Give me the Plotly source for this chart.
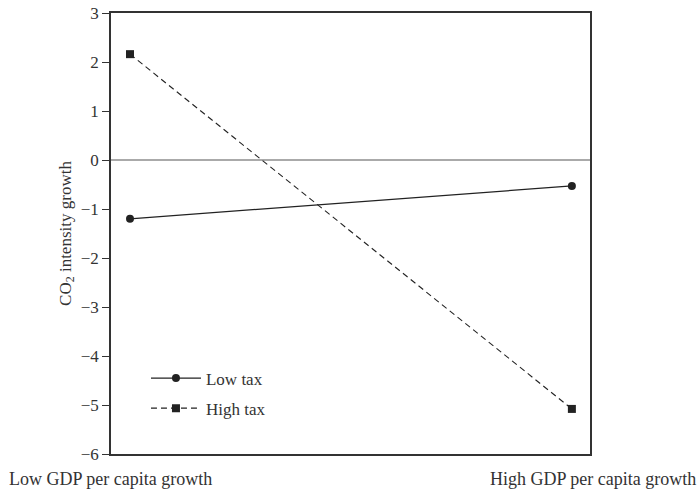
import plotly.graph_objects as go

categories = ["Low GDP per capita growth", "High GDP per capita growth"]
x_pos = [0, 1]
low_tax = [-1.2, -0.53]
high_tax = [2.16, -5.08]
y_ticks = [3, 2, 1, 0, -1, -2, -3, -4, -5, -6]
y_tick_text = ["3", "2", "1", "0", "\u22121", "\u22122", "\u22123", "\u22124", "\u22125", "\u22126"]

FONT = "Liberation Serif"
INK = "#222222"
TXT = "#333333"

fig = go.Figure()
fig.add_trace(go.Scatter(
    x=x_pos, y=low_tax, name="Low tax", mode="lines+markers", legendgroup="a",
    line=dict(color=INK, width=1.3),
    marker=dict(symbol="circle", size=8, color=INK),
))
fig.add_trace(go.Scatter(
    x=x_pos, y=high_tax, name="High tax", mode="lines+markers", legendgroup="b",
    line=dict(color=INK, width=1.1, dash="6px,4px"),
    marker=dict(symbol="square", size=8, color=INK),
))

fig.update_layout(
    width=699, height=492,
    margin=dict(l=111, r=109, t=13, b=38, autoexpand=False),
    paper_bgcolor="white", plot_bgcolor="white",
    font=dict(family=FONT, size=16, color=TXT),
    showlegend=True,
    legend=dict(x=0.073, y=0.212, xanchor="left", yanchor="top",
                bgcolor="rgba(0,0,0,0)", itemwidth=50, traceorder="grouped",
                font=dict(family=FONT, size=17, color=TXT),
                tracegroupgap=5),
    xaxis=dict(range=[-0.043, 1.041], showgrid=False, zeroline=False,
               showticklabels=False, ticks="",
               showline=True, linecolor="#333333", linewidth=1.5, mirror=True),
    yaxis=dict(range=[-6, 3], tickvals=y_ticks, ticktext=y_tick_text,
               showgrid=False, zeroline=True, zerolinecolor="#aaaaaa", zerolinewidth=1.5,
               ticks="outside", ticklen=7, tickcolor="#333333", tickwidth=1.2,
               tickfont=dict(family=FONT, size=17, color=TXT),
               showline=True, linecolor="#333333", linewidth=1.5, mirror=True,
               title=dict(text="CO<sub>2</sub> intensity growth", standoff=5,
                          font=dict(family=FONT, size=17, color=TXT))),
)

fig.add_annotation(x=0, xref="paper", xshift=-104, y=-6, yref="y", yshift=-25,
                   text=categories[0], showarrow=False, xanchor="left", yanchor="middle",
                   font=dict(family=FONT, size=18, color=TXT))
fig.add_annotation(x=1, xref="paper", xshift=108, y=-6, yref="y", yshift=-25,
                   text=categories[1], showarrow=False, xanchor="right", yanchor="middle",
                   font=dict(family=FONT, size=18, color=TXT))

fig.write_html("out.html", config={"displayModeBar": False},
               post_script="document.body.style.margin='0';document.body.style.padding='0';")
